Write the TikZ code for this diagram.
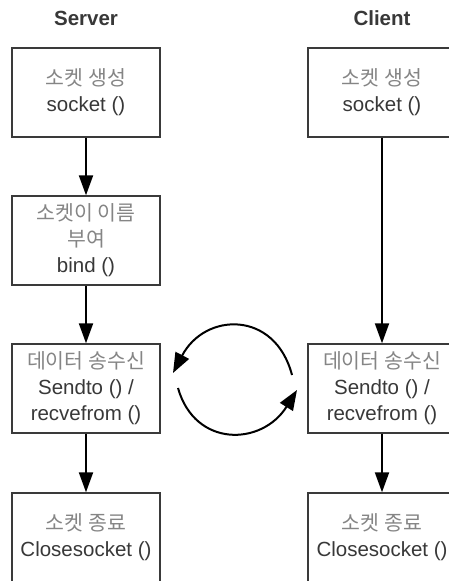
\documentclass[tikz,border=0pt]{standalone}
\usepackage{fontspec}
\setmainfont{Liberation Sans}
\newfontfamily\krfont{Noto Sans CJK KR}
\usetikzlibrary{arrows.meta}
\definecolor{boxline}{HTML}{3A3A3A}
\definecolor{krgray}{HTML}{858585}
\definecolor{engray}{HTML}{383838}
\newcommand{\kr}[1]{{\krfont\color{krgray}#1}}

\begin{document}
\begin{tikzpicture}[x=1pt,y=-1pt,
  stepbox/.style={draw=boxline, line width=1.4pt, fill=white,
    minimum width=148pt, minimum height=89pt, align=center, inner sep=0pt,
    text=engray, font=\fontsize{20.5}{26}\selectfont},
  flow/.style={line width=2pt, -{Triangle[length=20pt,width=14pt]}},
  swap/.style={line width=2pt, -{Triangle[length=20pt,width=15pt]}},
  title/.style={font=\bfseries\fontsize{20.5}{24}\selectfont, text=engray}]

\useasboundingbox (0,0) rectangle (449,581);
\fill[white] (0,0) rectangle (449,581);
\clip (0,0) rectangle (449,581);

% column titles
\node[title] (stitle) at (86,18) {Server};
\node[title] (ctitle) at (382,18) {Client};

% server side
\node[stepbox] (s1) at (86,92.5)  {\kr{소켓 생성}\\socket ()};
\node[stepbox] (s2) at (86,240.5) {\kr{소켓이 이름}\\\kr{부여}\\bind ()};
\node[stepbox] (s3) at (86,388.5) {\kr{데이터 송수신}\\Sendto () /\\recvefrom ()};
\node[stepbox] (s4) at (86,537.5) {\kr{소켓 종료}\\Closesocket ()};

% client side
\node[stepbox] (c1) at (382,92.5)  {\kr{소켓 생성}\\socket ()};
\node[stepbox] (c3) at (382,388.5) {\kr{데이터 송수신}\\Sendto () /\\recvefrom ()};
\node[stepbox] (c4) at (382,537.5) {\kr{소켓 종료}\\Closesocket ()};

% sequence arrows
\draw[flow] (s1) -- (s2);
\draw[flow] (s2) -- (s3);
\draw[flow] (s3) -- (s4);
\draw[flow] (c1) -- (c3);
\draw[flow] (c3) -- (c4);

% data exchange loop between the two sides
\coordinate (topStart) at (292,375);
\coordinate (topEnd)   at (173,373);
\coordinate (botStart) at (178,388);
\coordinate (botEnd)   at (297,390);
\draw[swap] (topStart) .. controls (275,310) and (205,312) .. (topEnd);
\draw[swap] (botStart) .. controls (195,448) and (262,446) .. (botEnd);
\end{tikzpicture}
\end{document}
